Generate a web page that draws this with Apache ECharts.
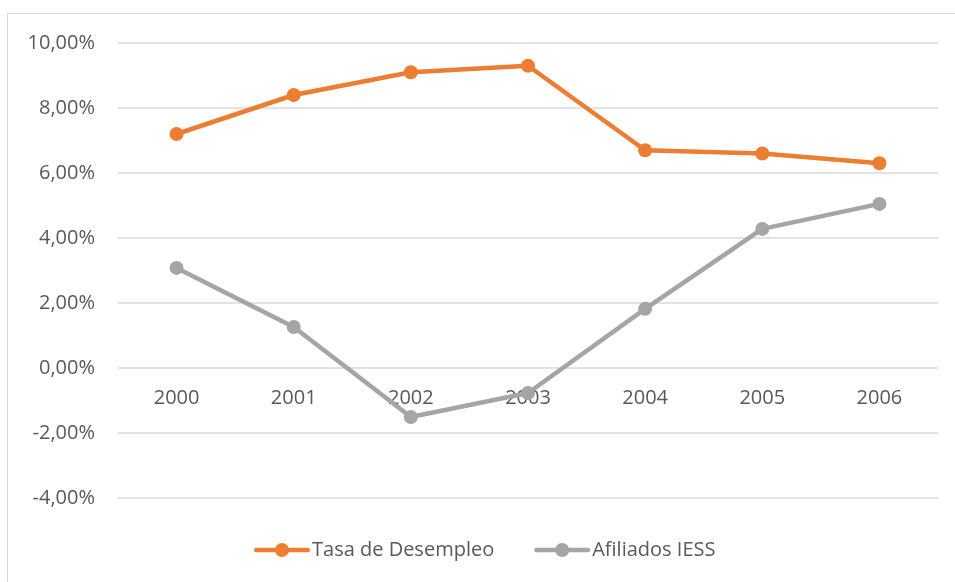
<!DOCTYPE html>
<html>
<head>
<meta charset="utf-8">
<script src="https://cdn.jsdelivr.net/npm/echarts@6/dist/echarts.min.js"></script>
<style>
  html, body { margin: 0; padding: 0; background: #fff; }
  #frame {
    position: absolute; left: 7px; top: 13px; width: 960px; height: 580px;
    border: 1px solid #d9d9d9; box-sizing: border-box;
  }
  #chart { position: absolute; left: 0; top: 0; width: 955px; height: 582px; }
</style>
</head>
<body>
<div id="frame"></div>
<div id="chart"></div>
<script>
  const years = ["2000", "2001", "2002", "2003", "2004", "2005", "2006"];
  const tasaDesempleo = [7.2, 8.4, 9.1, 9.3, 6.7, 6.6, 6.3];
  const afiliadosIess = [3.08, 1.26, -1.51, -0.77, 1.82, 4.28, 5.05];
  const seriesNames = ["Tasa de Desempleo", "Afiliados IESS"];

  const labelFont = "'Open Sans', 'Liberation Sans', sans-serif";
  // legend marker: thick line with a dot in the middle (56 x 14)
  const legendIcon =
    "path://M2.25,4.75 L21.4,4.75 L21.4,9.25 L2.25,9.25 A2.25,2.25 0 0,1 2.25,4.75 Z " +
    "M34.6,4.75 L53.75,4.75 A2.25,2.25 0 0,1 53.75,9.25 L34.6,9.25 Z " +
    "M21,7 A7,7 0 1,1 35,7 A7,7 0 1,1 21,7 Z";
  let myChart = echarts.init(document.getElementById("chart"));

  let option = {
    animation: false,
    textStyle: { fontFamily: labelFont },
    grid: { left: 118, right: 17, top: 43, bottom: 84 },
    legend: {
      top: 540,
      left: 254,
      padding: 0,
      icon: legendIcon,
      itemWidth: 56,
      itemHeight: 14,
      itemGap: 40,
      data: seriesNames,
      textStyle: { color: "#595959", fontSize: 20, fontFamily: labelFont, padding: [0, 0, 0, -3] },
    },
    xAxis: {
      type: "category",
      data: years,
      boundaryGap: true,
      // zero line sits 130px above the bottom of the grid (-4% .. 0%)
      offset: -130,
      axisLine: { show: false },
      axisTick: { show: false },
      axisLabel: { color: "#595959", fontSize: 20, margin: 20 },
    },
    yAxis: {
      type: "value",
      min: -4,
      max: 10,
      interval: 2,
      axisLine: { show: false },
      axisTick: { show: false },
      splitLine: { lineStyle: { color: "#d9d9d9", width: 1.5 } },
      axisLabel: {
        color: "#595959",
        fontSize: 20,
        margin: 23,
        formatter: (v) => v.toFixed(2).replace(".", ",") + "%",
      },
    },
    series: [
      {
        name: seriesNames[0],
        type: "line",
        data: tasaDesempleo,
        symbol: "circle",
        symbolSize: 14,
        lineStyle: { color: "#ed7d31", width: 4.5 },
        itemStyle: { color: "#ed7d31" },
      },
      {
        name: seriesNames[1],
        type: "line",
        data: afiliadosIess,
        symbol: "circle",
        symbolSize: 14,
        lineStyle: { color: "#a5a5a5", width: 4.5 },
        itemStyle: { color: "#a5a5a5" },
      },
    ],
  };
  option && myChart.setOption(option);
</script>
</body>
</html>
